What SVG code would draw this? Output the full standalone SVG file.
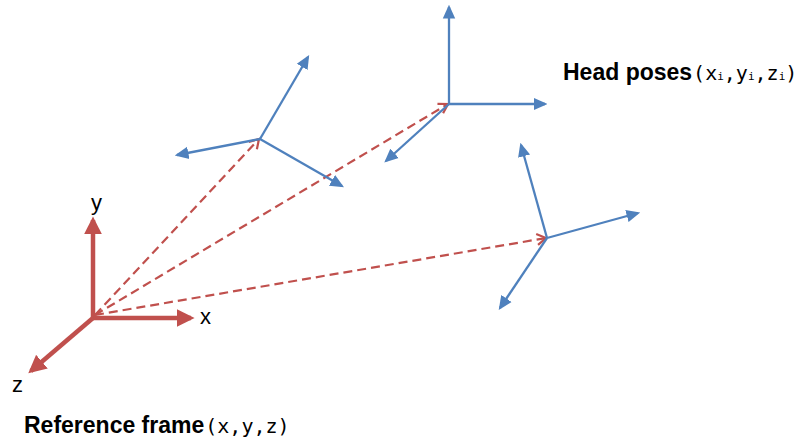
<svg xmlns="http://www.w3.org/2000/svg" width="805" height="439" viewBox="0 0 805 439">
<defs>
<marker id="redHead" markerWidth="4" markerHeight="4" refX="3.2" refY="2" orient="auto" markerUnits="strokeWidth"><path d="M0,0 L4,2 L0,4 Z" fill="#c0504d"/></marker>
<marker id="blueHead" markerWidth="6" markerHeight="6" refX="5" refY="3" orient="auto" markerUnits="strokeWidth"><path d="M0,0.3 L6,3 L0,5.7 Z" fill="#4f81bd"/></marker>
<marker id="openHead" markerWidth="14" markerHeight="14" refX="11" refY="7" orient="auto" markerUnits="userSpaceOnUse"><path d="M2,1.5 L11,7 L2,12.5" fill="none" stroke="#c0504d" stroke-width="2.2"/></marker>
</defs>
<style>
.red{stroke:#c0504d;stroke-width:4.5;fill:none;marker-end:url(#redHead)}
.blue{stroke:#4f81bd;stroke-width:2.3;fill:none;marker-end:url(#blueHead)}
.dash{stroke:#c0504d;stroke-width:2.2;fill:none;stroke-dasharray:9 5;marker-end:url(#openHead)}
.lbl{font-family:"Liberation Sans",Arial,sans-serif;font-size:22px;fill:#000}
.bold{font-family:"Liberation Sans",Arial,sans-serif;font-size:23px;font-weight:bold;fill:#000}
.mono{font-family:"DejaVu Sans Mono","Liberation Mono",monospace;font-size:20px;fill:#000}
.sub{font-size:11px}
</style>
<rect width="805" height="439" fill="#fff"/>
<g id="connectors">
<line class="dash" x1="95" y1="315" x2="259" y2="139"/>
<line class="dash" x1="95" y1="315" x2="448" y2="104"/>
<line class="dash" x1="95" y1="315" x2="546" y2="238"/>
</g>
<g id="reference-frame">
<line class="red" x1="93" y1="318" x2="93" y2="220"/>
<line class="red" x1="91" y1="318" x2="191" y2="318"/>
<line class="red" x1="93" y1="318" x2="31" y2="371"/>
<text class="lbl" x="91" y="210">y</text>
<text class="lbl" x="200" y="324">x</text>
<text class="lbl" x="12" y="392">z</text>
<text x="24" y="433"><tspan class="bold">Reference frame</tspan><tspan class="mono" dx="1">(x,y,z)</tspan></text>
</g>
<g id="pose1">
<line class="blue" x1="260" y1="139" x2="308" y2="57"/>
<line class="blue" x1="260" y1="139" x2="177" y2="155"/>
<line class="blue" x1="260" y1="139" x2="342" y2="186"/>
</g>
<g id="pose2">
<line class="blue" x1="449" y1="104" x2="449" y2="7"/>
<line class="blue" x1="449" y1="104" x2="545" y2="104"/>
<line class="blue" x1="449" y1="104" x2="386" y2="161"/>
<text x="563" y="80"><tspan class="bold">Head poses</tspan><tspan class="mono" dx="1">(x</tspan><tspan class="mono sub">i</tspan><tspan class="mono">,y</tspan><tspan class="mono sub">i</tspan><tspan class="mono">,z</tspan><tspan class="mono sub">i</tspan><tspan class="mono">)</tspan></text>
</g>
<g id="pose3">
<line class="blue" x1="547" y1="238" x2="521" y2="145"/>
<line class="blue" x1="547" y1="238" x2="638" y2="213"/>
<line class="blue" x1="547" y1="238" x2="500" y2="308"/>
</g>
</svg>
